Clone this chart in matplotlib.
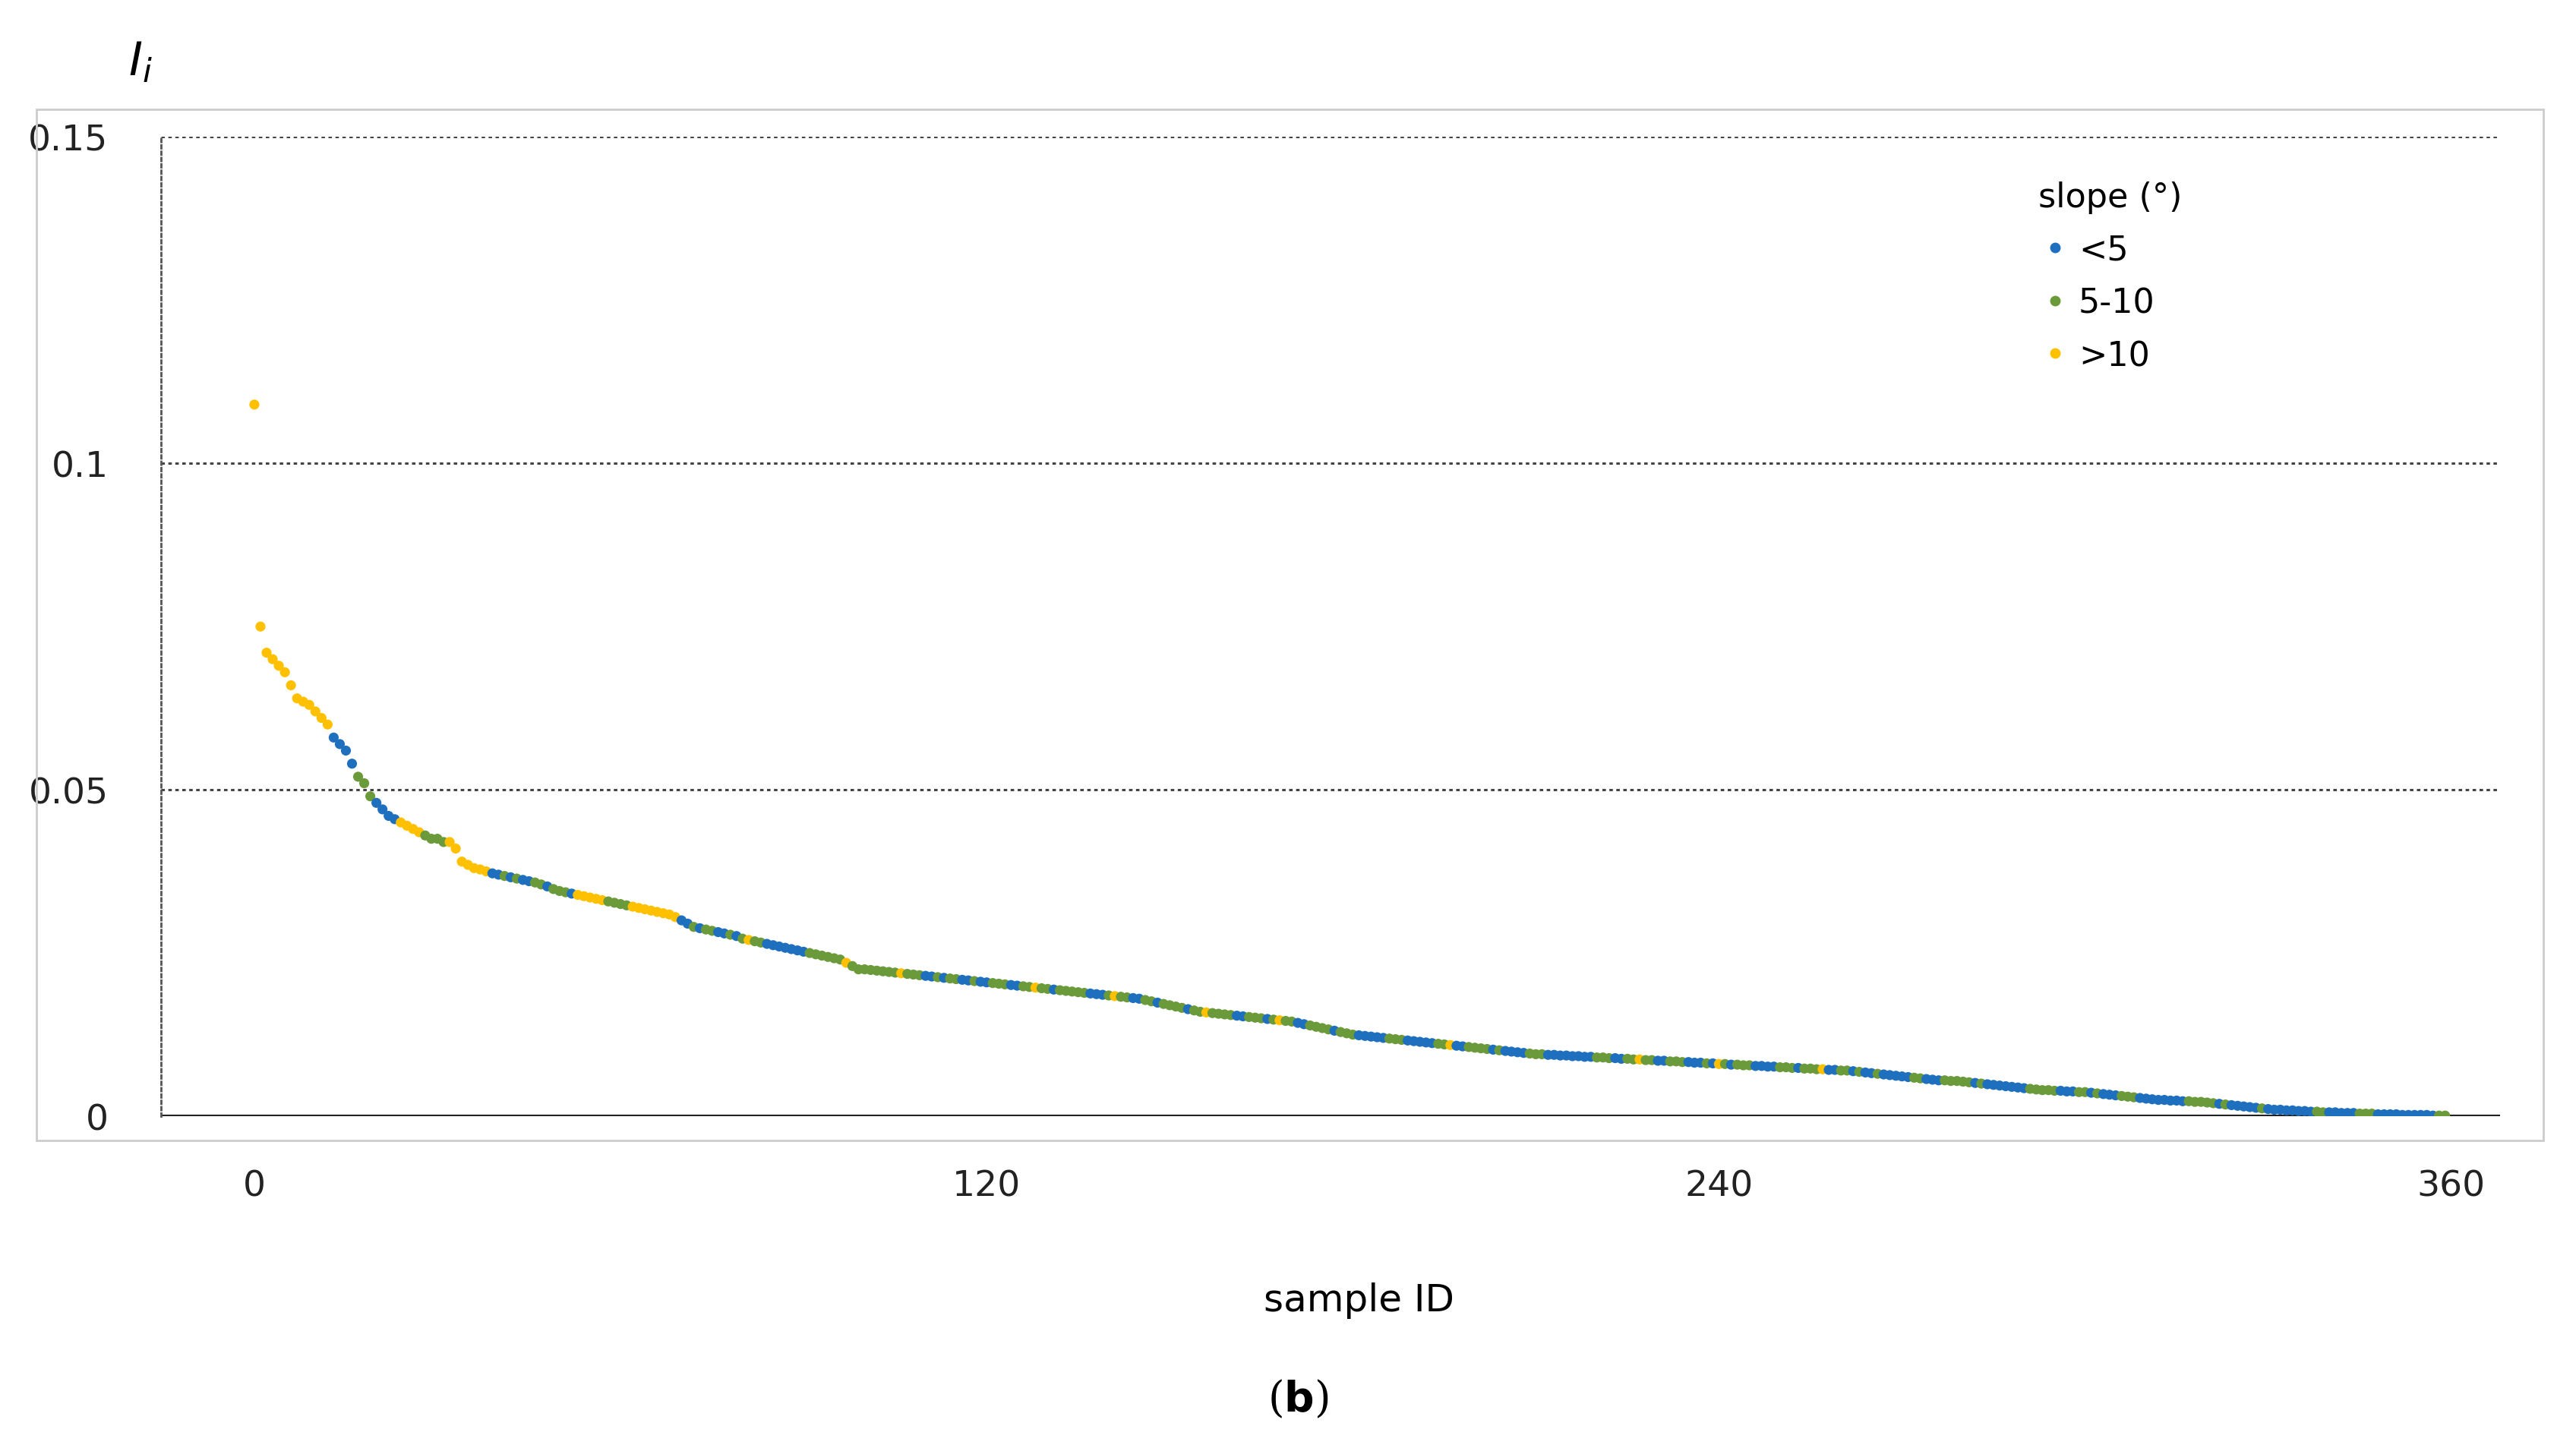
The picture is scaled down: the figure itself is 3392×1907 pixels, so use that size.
import numpy as np
import matplotlib.pyplot as plt
from matplotlib.patches import Rectangle
from matplotlib.lines import Line2D

# I_i values in units of 1e-4, sorted descending by sample ID
ii_e4 = [
    1090, 750, 710, 700, 690, 680, 660, 640, 635, 630, 620, 610, 600, 580, 570, 560, 540, 520, 510, 490,
    480, 470, 460, 455, 450, 445, 440, 435, 430, 425, 425, 420, 420, 410, 390, 385, 380, 378, 375, 372,
    370, 368, 366, 364, 362, 360, 358, 355, 352, 348, 345, 343, 341, 339, 337, 335, 333, 331, 329, 327,
    325, 323, 321, 319, 317, 315, 313, 311, 309, 305, 300, 295, 290, 288, 286, 284, 282, 280, 278, 276,
    272, 270, 268, 266, 264, 262, 260, 258, 256, 254, 252, 250, 248, 246, 244, 242, 240, 235, 230, 225,
    225, 224, 223, 222, 221, 220, 219, 218, 217, 216, 215, 214, 213, 212, 211, 210, 209, 208, 207, 206,
    205, 204, 203, 202, 201, 200, 199, 198, 197, 196, 195, 194, 193, 192, 191, 190, 189, 188, 187, 186,
    185, 184, 183, 182, 181, 180, 178, 176, 174, 172, 170, 168, 166, 164, 162, 160, 159, 158, 157, 156,
    155, 154, 153, 152, 151, 150, 149, 148, 147, 146, 145, 143, 141, 139, 137, 135, 133, 131, 129, 127,
    125, 124, 123, 122, 121, 120, 119, 118, 117, 116, 115, 114, 113, 112, 111, 110, 109, 108, 107, 106,
    105, 104, 103, 102, 101, 100, 99, 98, 97, 96, 95, 95, 94, 94, 93, 93, 92, 92, 91, 91,
    90, 90, 89, 89, 88, 88, 87, 87, 86, 86, 85, 85, 84, 84, 83, 83, 82, 82, 81, 81,
    80, 80, 79, 79, 78, 78, 77, 77, 76, 76, 75, 75, 74, 74, 73, 73, 72, 72, 71, 71,
    70, 70, 69, 68, 67, 66, 65, 64, 63, 62, 61, 60, 59, 58, 57, 56, 55, 55, 54, 54,
    53, 52, 51, 50, 49, 48, 47, 46, 45, 44, 43, 42, 41, 40, 40, 39, 39, 38, 38, 37,
    37, 36, 35, 34, 33, 32, 31, 30, 29, 28, 27, 26, 25, 25, 24, 24, 23, 23, 22, 22,
    21, 20, 19, 18, 17, 16, 15, 14, 13, 12, 11, 10, 10, 9, 9, 8, 8, 7, 7, 6,
    6, 6, 5, 5, 5, 4, 4, 4, 3, 3, 3, 3, 2, 2, 2, 2, 2, 1, 1, 1,
]

# slope class per sample: b = <5, g = 5-10, y = >10
slope_class = (
    "yyyyyyyyyyyyybbbbgggbbbbyyyygggg"
    "yyyyyyybbgbgbbggbgggbyyyyygggg"
    "yyyyyyyybbgbggbbgbgyggbbbbbbbg"
    "gggggyggggggggygggbbgbggbbgbbg"
    "ggbbggyggbgggggbbbgyggbbggbggg"
    "gbggyggggbbgggbgyggbbggggbgggb"
    "bbbbgggbbbbbggybbggggbgbbbbggg"
    "bbbbbbbbgggbbggyggbbgggbbbgbyg"
    "bgggbbbbgggbgggybbggbgbbgbbbbb"
    "ggbbbgggggbgbbbbbbbgggggbbbggb"
    "gbbbgggbbbbbbbbgggggbgbbbbbgbb"
    "bbbbbbggbbbbbgggbbbbbbbbbbgggg"
)

categories = ["<5", "5-10", ">10"]
cat_codes = ["b", "g", "y"]
cat_colors = ["#1f6fbf", "#6a9a3a", "#ffc000"]

sample_id = np.arange(len(ii_e4))
ii = np.array(ii_e4) / 1e4
codes = np.array(list(slope_class[:len(ii)]))


def main():
    fig = plt.figure(figsize=(33.92, 19.08), dpi=100)
    ax = fig.add_axes([0.0625, 0.229, 0.908, 0.676])
    col_map = dict(zip(cat_codes, cat_colors))
    ax.scatter(sample_id, ii, c=[col_map[c] for c in codes], s=90, linewidths=0, zorder=3)

    ax.set_xlim(-15.3, 368)
    ax.set_ylim(0, 0.15)
    ax.set_xticks([0, 120, 240, 360])
    ax.set_yticks([0, 0.05, 0.1, 0.15])
    ax.set_yticklabels(["0", "0.05", "0.1", "0.15"])
    ax.tick_params(length=0, labelsize=34, colors="#222222")
    ax.tick_params(axis="x", pad=50)
    ax.tick_params(axis="y", pad=50)
    for y in [0.05, 0.1, 0.15]:
        ax.axhline(y, color="#444444", ls=(0, (1.5, 1.5)), lw=2.2, zorder=1)
    ax.axhline(0, color="#222222", lw=3, zorder=2)
    for s in ["top", "right", "bottom"]:
        ax.spines[s].set_visible(False)
    ax.spines["left"].set_linestyle((0, (1.5, 1.5)))
    ax.spines["left"].set_color("#555555")
    ax.spines["left"].set_linewidth(2)

    handles = [Line2D([], [], ls="", marker="o", color=c, markersize=9) for c in cat_colors]
    leg = fig.legend(handles, categories, title="slope (°)", loc="upper left",
                     bbox_to_anchor=(1222 / 1568, 1 - 92 / 882), frameon=False,
                     fontsize=32, title_fontsize=32, handletextpad=0.2,
                     handlelength=1.0, labelspacing=0.6)
    leg._legend_box.align = "left"

    fig.patches.append(Rectangle((22 / 1568, 1 - 695 / 882), 1526 / 1568, 628 / 882,
                                 transform=fig.transFigure, fill=False,
                                 edgecolor="#cccccc", lw=2))
    fig.text(78 / 1568, 1 - 38 / 882, r"$I_i$", fontsize=44, family="serif",
             va="center", ha="left")
    fig.text(827 / 1568, 1 - 792 / 882, "sample ID", fontsize=36, ha="center", va="center")
    fig.text(790 / 1568, 1 - 852 / 882, r"($\mathbf{b}$)", fontsize=40, ha="center",
             va="center", family="serif")
    fig.savefig("out.png")


if __name__ == "__main__":
    main()
